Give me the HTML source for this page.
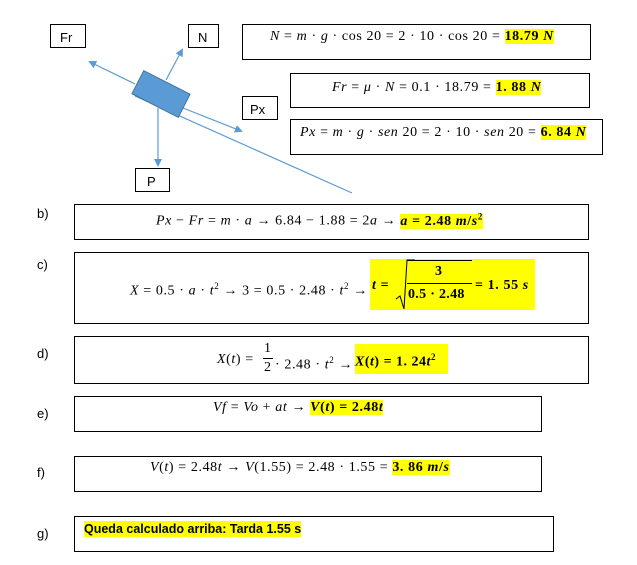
<!DOCTYPE html>
<html><head><meta charset="utf-8"><style>
body{margin:0;width:637px;height:565px;background:#fff;position:relative;overflow:hidden;font-family:"Liberation Serif",serif;font-size:14px;color:#000}
.b{position:absolute;border:1.3px solid #000;box-sizing:border-box;background:#fff}
.t{position:absolute;white-space:nowrap;line-height:16px;letter-spacing:0.6px}
.s{font-family:"Liberation Sans",sans-serif;letter-spacing:0}
.h{background:#ff0;font-weight:bold}
i{font-style:italic}
.l{position:absolute;font-family:"Liberation Sans",sans-serif;font-size:13px}
sup{font-size:9px}
</style></head><body>
<svg width="637" height="565" style="position:absolute;left:0;top:0">
<defs><marker id="a" markerWidth="8" markerHeight="8" refX="6" refY="4" orient="auto" markerUnits="userSpaceOnUse"><path d="M0,0 L8,4 L0,8 z" fill="#5b9bd5"/></marker></defs>
<g stroke="#5b9bd5" stroke-width="1.2" fill="none">
<line x1="135" y1="96" x2="352" y2="193"/>
<line x1="135" y1="84" x2="90" y2="62" marker-end="url(#a)"/>
<line x1="166" y1="80" x2="182" y2="50" marker-end="url(#a)"/>
<line x1="183" y1="108" x2="241" y2="131" marker-end="url(#a)"/>
<line x1="158" y1="108" x2="158" y2="165" marker-end="url(#a)"/>
</g>
<rect x="135" y="81" width="52" height="26" fill="#5b9bd5" stroke="#41719c" stroke-width="1" transform="rotate(27 161 94)"/>
</svg>
<div class="b" style="left:50px;top:24px;width:36px;height:24px"></div><div class="l" style="left:60px;top:30px">Fr</div>
<div class="b" style="left:188px;top:24px;width:31px;height:24px"></div><div class="l" style="left:198px;top:30px">N</div>
<div class="b" style="left:242px;top:96px;width:36px;height:24px"></div><div class="l" style="left:250px;top:102px">Px</div>
<div class="b" style="left:135px;top:168px;width:35px;height:24px"></div><div class="l" style="left:147px;top:174px">P</div>

<div class="b" style="left:242px;top:24px;width:349px;height:36px"></div>
<div class="t" style="left:270px;top:29px"><i>N</i> = <i>m</i> · <i>g</i> · cos 20 = 2 · 10 · cos 20 = <span class="h">18.79 <i>N</i></span></div>
<div class="b" style="left:290px;top:73px;width:300px;height:35px"></div>
<div class="t" style="left:332px;top:80px"><i>Fr</i> = <i>μ</i> · <i>N</i> = 0.1 · 18.79 = <span class="h">1. 88 <i>N</i></span></div>
<div class="b" style="left:290px;top:119px;width:313px;height:36px"></div>
<div class="t" style="left:300px;top:125px"><i>Px</i> = <i>m</i> · <i>g</i> · <i>sen</i> 20 = 2 · 10 · <i>sen</i> 20 = <span class="h">6. 84 <i>N</i></span></div>

<div class="l" style="left:37px;top:206px">b)</div>
<div class="b" style="left:74px;top:204px;width:515px;height:36px"></div>
<div class="t" style="left:156px;top:208px"><i>Px</i> − <i>Fr</i> = <i>m</i> · <i>a</i> → 6.84 − 1.88 = 2<i>a</i> → <span class="h"><i>a</i> = 2.48 <i>m</i>/<i>s</i><sup>2</sup></span></div>

<div class="l" style="left:37px;top:257px">c)</div>
<div class="b" style="left:74px;top:252px;width:515px;height:72px"></div>
<div class="t" style="left:130px;top:278px"><i>X</i> = 0.5 · <i>a</i> · <i>t</i><sup>2</sup> → 3 = 0.5 · 2.48 · <i>t</i><sup>2</sup> →</div>
<div style="position:absolute;left:370px;top:259px;width:165px;height:51px;background:#ff0"></div>
<div class="t" style="left:372px;top:278px;font-weight:bold"><i>t</i> =</div>
<svg style="position:absolute;left:395px;top:259px" width="20" height="52"><path d="M1,40 L5,37 L9,50 L12,1 L75,1" stroke="#000" fill="none"/></svg>
<div style="position:absolute;left:407px;top:260px;width:65px;border-top:1px solid #000"></div>
<div class="t" style="left:435px;top:264px;font-weight:bold">3</div>
<div style="position:absolute;left:407px;top:283px;width:65px;border-top:1.3px solid #000"></div>
<div class="t" style="left:408px;top:287px;font-weight:bold;letter-spacing:0.3px">0.5 · 2.48</div>
<div class="t" style="left:475px;top:278px;font-weight:bold">= 1. 55 <i>s</i></div>

<div class="l" style="left:37px;top:346px">d)</div>
<div class="b" style="left:74px;top:336px;width:515px;height:48px"></div>
<div class="t" style="left:217px;top:352px"><i>X</i>(<i>t</i>) =</div>
<div class="t" style="left:264px;top:341px">1</div>
<div style="position:absolute;left:263px;top:358px;width:10px;border-top:1px solid #000"></div>
<div class="t" style="left:264px;top:360px">2</div>
<div class="t" style="left:275px;top:352px">· 2.48 · <i>t</i><sup>2</sup> →</div>
<div class="t" style="left:355px;top:344px;height:30px;width:93px;background:#ff0;line-height:26px;font-weight:bold;letter-spacing:0.5px"><i>X</i>(<i>t</i>) = 1. 24<i>t</i><sup>2</sup></div>

<div class="l" style="left:37px;top:406px">e)</div>
<div class="b" style="left:74px;top:396px;width:468px;height:36px"></div>
<div class="t" style="left:213px;top:400px"><i>Vf</i> = <i>Vo</i> + <i>at</i> → <span class="h"><i>V</i>(<i>t</i>) = 2.48<i>t</i></span></div>

<div class="l" style="left:37px;top:465px">f)</div>
<div class="b" style="left:74px;top:456px;width:468px;height:36px"></div>
<div class="t" style="left:150px;top:460px"><i>V</i>(<i>t</i>) = 2.48<i>t</i> → <i>V</i>(1.55) = 2.48 · 1.55 = <span class="h">3. 86 <i>m</i>/<i>s</i></span></div>

<div class="l" style="left:37px;top:526px">g)</div>
<div class="b" style="left:74px;top:516px;width:480px;height:36px"></div>
<div class="t s" style="left:84px;top:521px;background:#ff0;font-weight:bold;font-size:12.5px">Queda calculado arriba: Tarda 1.55 s</div>
</body></html>
